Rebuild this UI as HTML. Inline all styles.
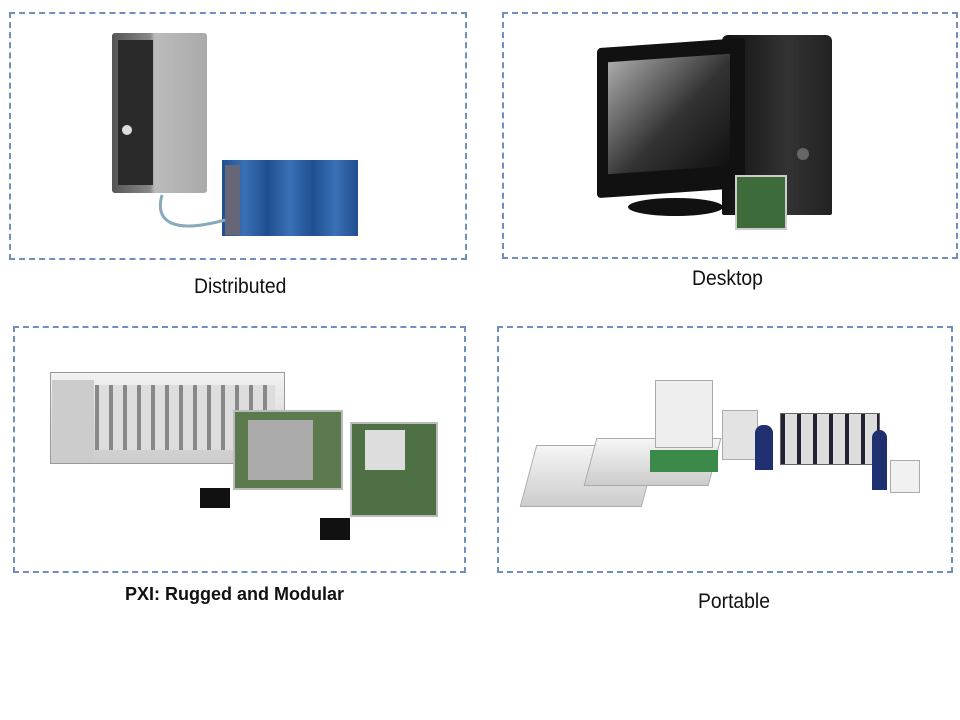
<!DOCTYPE html>
<html><head><meta charset="utf-8"><style>
*{margin:0;padding:0;box-sizing:border-box}
body{width:960px;height:720px;background:#fff;position:relative;overflow:hidden;font-family:"Liberation Sans",sans-serif}
.b{position:absolute;border:2px dashed #6f8fbf}
.a{position:absolute}
.l{position:absolute;font-size:21px;color:#111;transform:scaleX(0.92);transform-origin:left}
</style></head><body>
<div class="b" style="left:9px;top:12px;width:458px;height:248px"></div>
<div class="b" style="left:502px;top:12px;width:456px;height:247px"></div>
<div class="b" style="left:13px;top:326px;width:453px;height:247px"></div>
<div class="b" style="left:497px;top:326px;width:456px;height:247px"></div>

<!-- Distributed -->
<div class="a" style="left:112px;top:33px;width:95px;height:160px;background:linear-gradient(90deg,#555,#888 40%,#bbb 45%,#aaa);border-radius:3px"></div>
<div class="a" style="left:118px;top:40px;width:35px;height:145px;background:#2a2a2a"></div>
<div class="a" style="left:122px;top:125px;width:10px;height:10px;border-radius:50%;background:#ddd"></div>
<div class="a" style="left:222px;top:160px;width:136px;height:76px;background:linear-gradient(90deg,#1f4f8f,#3a70b5,#1f4f8f,#3a70b5,#1f4f8f,#3a70b5,#1f4f8f)"></div>
<div class="a" style="left:225px;top:165px;width:15px;height:70px;background:#667"></div>
<svg class="a" style="left:150px;top:190px" width="80" height="50"><path d="M12 5 C5 30 20 45 75 30" stroke="#8ab" stroke-width="3" fill="none"/></svg>
<div class="l" style="left:194px;top:275px">Distributed</div>

<!-- Desktop -->
<div class="a" style="left:722px;top:35px;width:110px;height:180px;background:linear-gradient(90deg,#111,#333 60%,#222);border-radius:6px 6px 2px 2px"></div>
<div class="a" style="left:797px;top:148px;width:12px;height:12px;border-radius:50%;background:#666"></div>
<div class="a" style="left:597px;top:43px;width:148px;height:150px;background:#111;transform:skewY(-4deg);border-radius:4px"></div>
<div class="a" style="left:608px;top:58px;width:122px;height:112px;background:linear-gradient(135deg,#aaa,#333 55%,#111);transform:skewY(-4deg)"></div>
<div class="a" style="left:628px;top:198px;width:95px;height:18px;background:#111;border-radius:50%"></div>
<div class="a" style="left:735px;top:175px;width:52px;height:55px;background:#3d6b3a;border:2px solid #ccc"></div>
<div class="l" style="left:692px;top:267px">Desktop</div>

<!-- PXI -->
<div class="a" style="left:50px;top:372px;width:235px;height:92px;background:linear-gradient(#f2f2f2,#ccc);border:1px solid #999"></div>
<div class="a" style="left:95px;top:385px;width:180px;height:65px;background:repeating-linear-gradient(90deg,#888 0 4px,#ddd 4px 14px)"></div>
<div class="a" style="left:52px;top:380px;width:42px;height:80px;background:#ccc"></div>
<div class="a" style="left:233px;top:410px;width:110px;height:80px;background:#5c7a4e;border:2px solid #bbb"></div>
<div class="a" style="left:248px;top:420px;width:65px;height:60px;background:#aaa"></div>
<div class="a" style="left:350px;top:422px;width:88px;height:95px;background:#4f7045;border:2px solid #bbb"></div>
<div class="a" style="left:365px;top:430px;width:40px;height:40px;background:#ddd"></div>
<div class="a" style="left:200px;top:488px;width:30px;height:20px;background:#111"></div>
<div class="a" style="left:320px;top:518px;width:30px;height:22px;background:#111"></div>
<div class="a" style="left:125px;top:584px;font-size:18px;font-weight:bold;color:#111">PXI: Rugged and Modular</div>

<!-- Portable -->
<div class="a" style="left:528px;top:445px;width:122px;height:62px;background:linear-gradient(#f6f6f6,#ccc);border:1px solid #aaa;transform:skewX(-15deg)"></div>
<div class="a" style="left:590px;top:438px;width:125px;height:48px;background:linear-gradient(#f6f6f6,#ccc);border:1px solid #aaa;transform:skewX(-15deg)"></div>
<div class="a" style="left:655px;top:380px;width:58px;height:68px;background:#eee;border:1px solid #aaa"></div>
<div class="a" style="left:650px;top:450px;width:68px;height:22px;background:#3b8a4a"></div>
<div class="a" style="left:722px;top:410px;width:36px;height:50px;background:#e3e3e3;border:1px solid #aaa"></div>
<div class="a" style="left:780px;top:413px;width:100px;height:52px;background:repeating-linear-gradient(90deg,#223 0 4px,#ddd 4px 16px);border:1px solid #666"></div>
<div class="a" style="left:755px;top:425px;width:18px;height:45px;background:#1f2f6f;border-radius:8px 8px 0 0"></div>
<div class="a" style="left:872px;top:430px;width:15px;height:60px;background:#1f2f6f;border-radius:8px 8px 0 0"></div>
<div class="a" style="left:890px;top:460px;width:30px;height:33px;background:#f1f1f1;border:1px solid #aaa"></div>
<div class="l" style="left:698px;top:590px">Portable</div>
</body></html>
